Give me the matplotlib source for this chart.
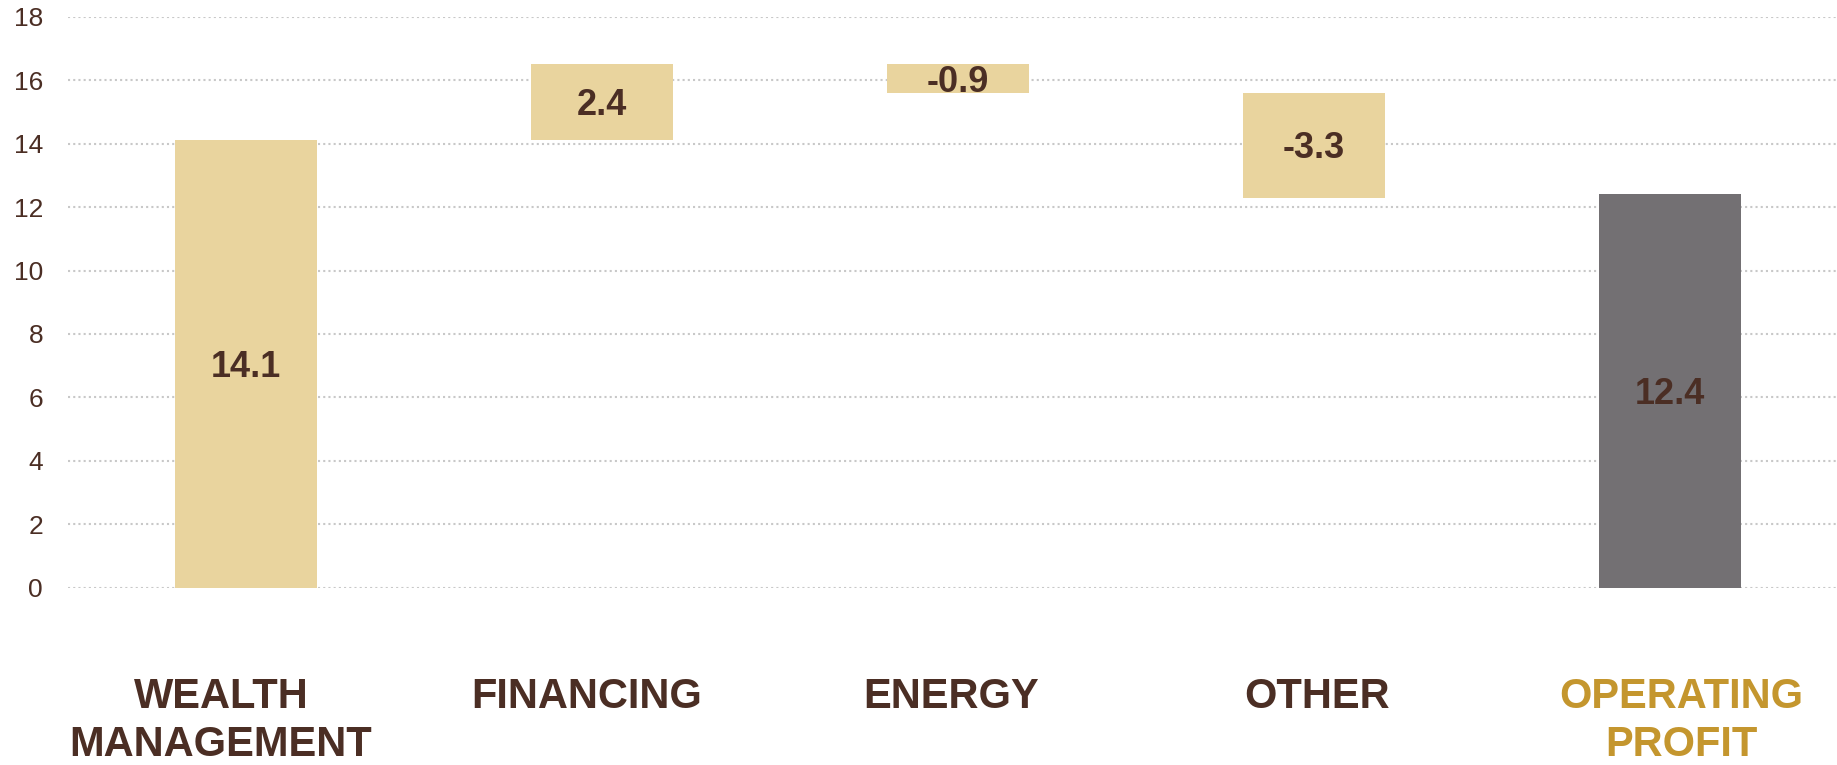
import numpy as np
import matplotlib.pyplot as plt

plt.rcParams['font.family'] = ['Liberation Sans', 'DejaVu Sans']

# waterfall data
categories = ['WEALTH\nMANAGEMENT', 'FINANCING', 'ENERGY', 'OTHER', 'OPERATING\nPROFIT']
changes = [14.1, 2.4, -0.9, -3.3]
total = 12.4
yticks = [0, 2, 4, 6, 8, 10, 12, 14, 16, 18]

brown = '#4B2E24'
tan = '#E9D49E'
grey = '#737073'
gold = '#C4962E'

fig = plt.figure(figsize=(18.37, 7.65), dpi=100)
ax = fig.add_axes([68 / 1837, 0.2316, 1 - 68 / 1837, 0.9782 - 0.2316])

x = np.arange(len(categories))
width = 0.4

# running total gives the floating bar bottoms
bottoms = np.concatenate([[0], np.cumsum(changes)[:-1]])
heights = np.array(changes)

bars = ax.bar(x[:-1], heights, width, bottom=bottoms, color=tan, zorder=3)
last = ax.bar(x[-1], total, width, color=grey, zorder=3)

for b, v in zip(list(bars) + list(last), changes + [total]):
    cy = b.get_y() + b.get_height() / 2
    ax.annotate('{:.1f}'.format(v), (b.get_x() + b.get_width() / 2, cy),
                xytext=(0, -2.5), textcoords='offset points',
                ha='center', va='center', fontsize=26, fontweight='bold',
                color=brown, zorder=4)

# category names sit on a slightly wider grid than the bars
label_x = -0.07 + 1.026 * x
for i, lab in enumerate(categories):
    col = gold if i == len(categories) - 1 else brown
    ax.text(label_x[i], -2.8, lab, ha='center', va='top', fontsize=30,
            fontweight='bold', color=col, linespacing=1.27, clip_on=False)

ax.set_xlim(-0.5, 4.47)
ax.set_ylim(0, 18)
ax.set_yticks(yticks)
ax.set_xticks([])
ax.tick_params(axis='y', length=0, pad=18, labelsize=19, labelcolor=brown)
ax.yaxis.grid(True, linestyle=(0, (1, 1.5)), color='#C8C8C8', linewidth=1.5, zorder=0)
ax.set_axisbelow(True)
for s in ax.spines.values():
    s.set_visible(False)

fig.savefig('out.png', dpi=100)
